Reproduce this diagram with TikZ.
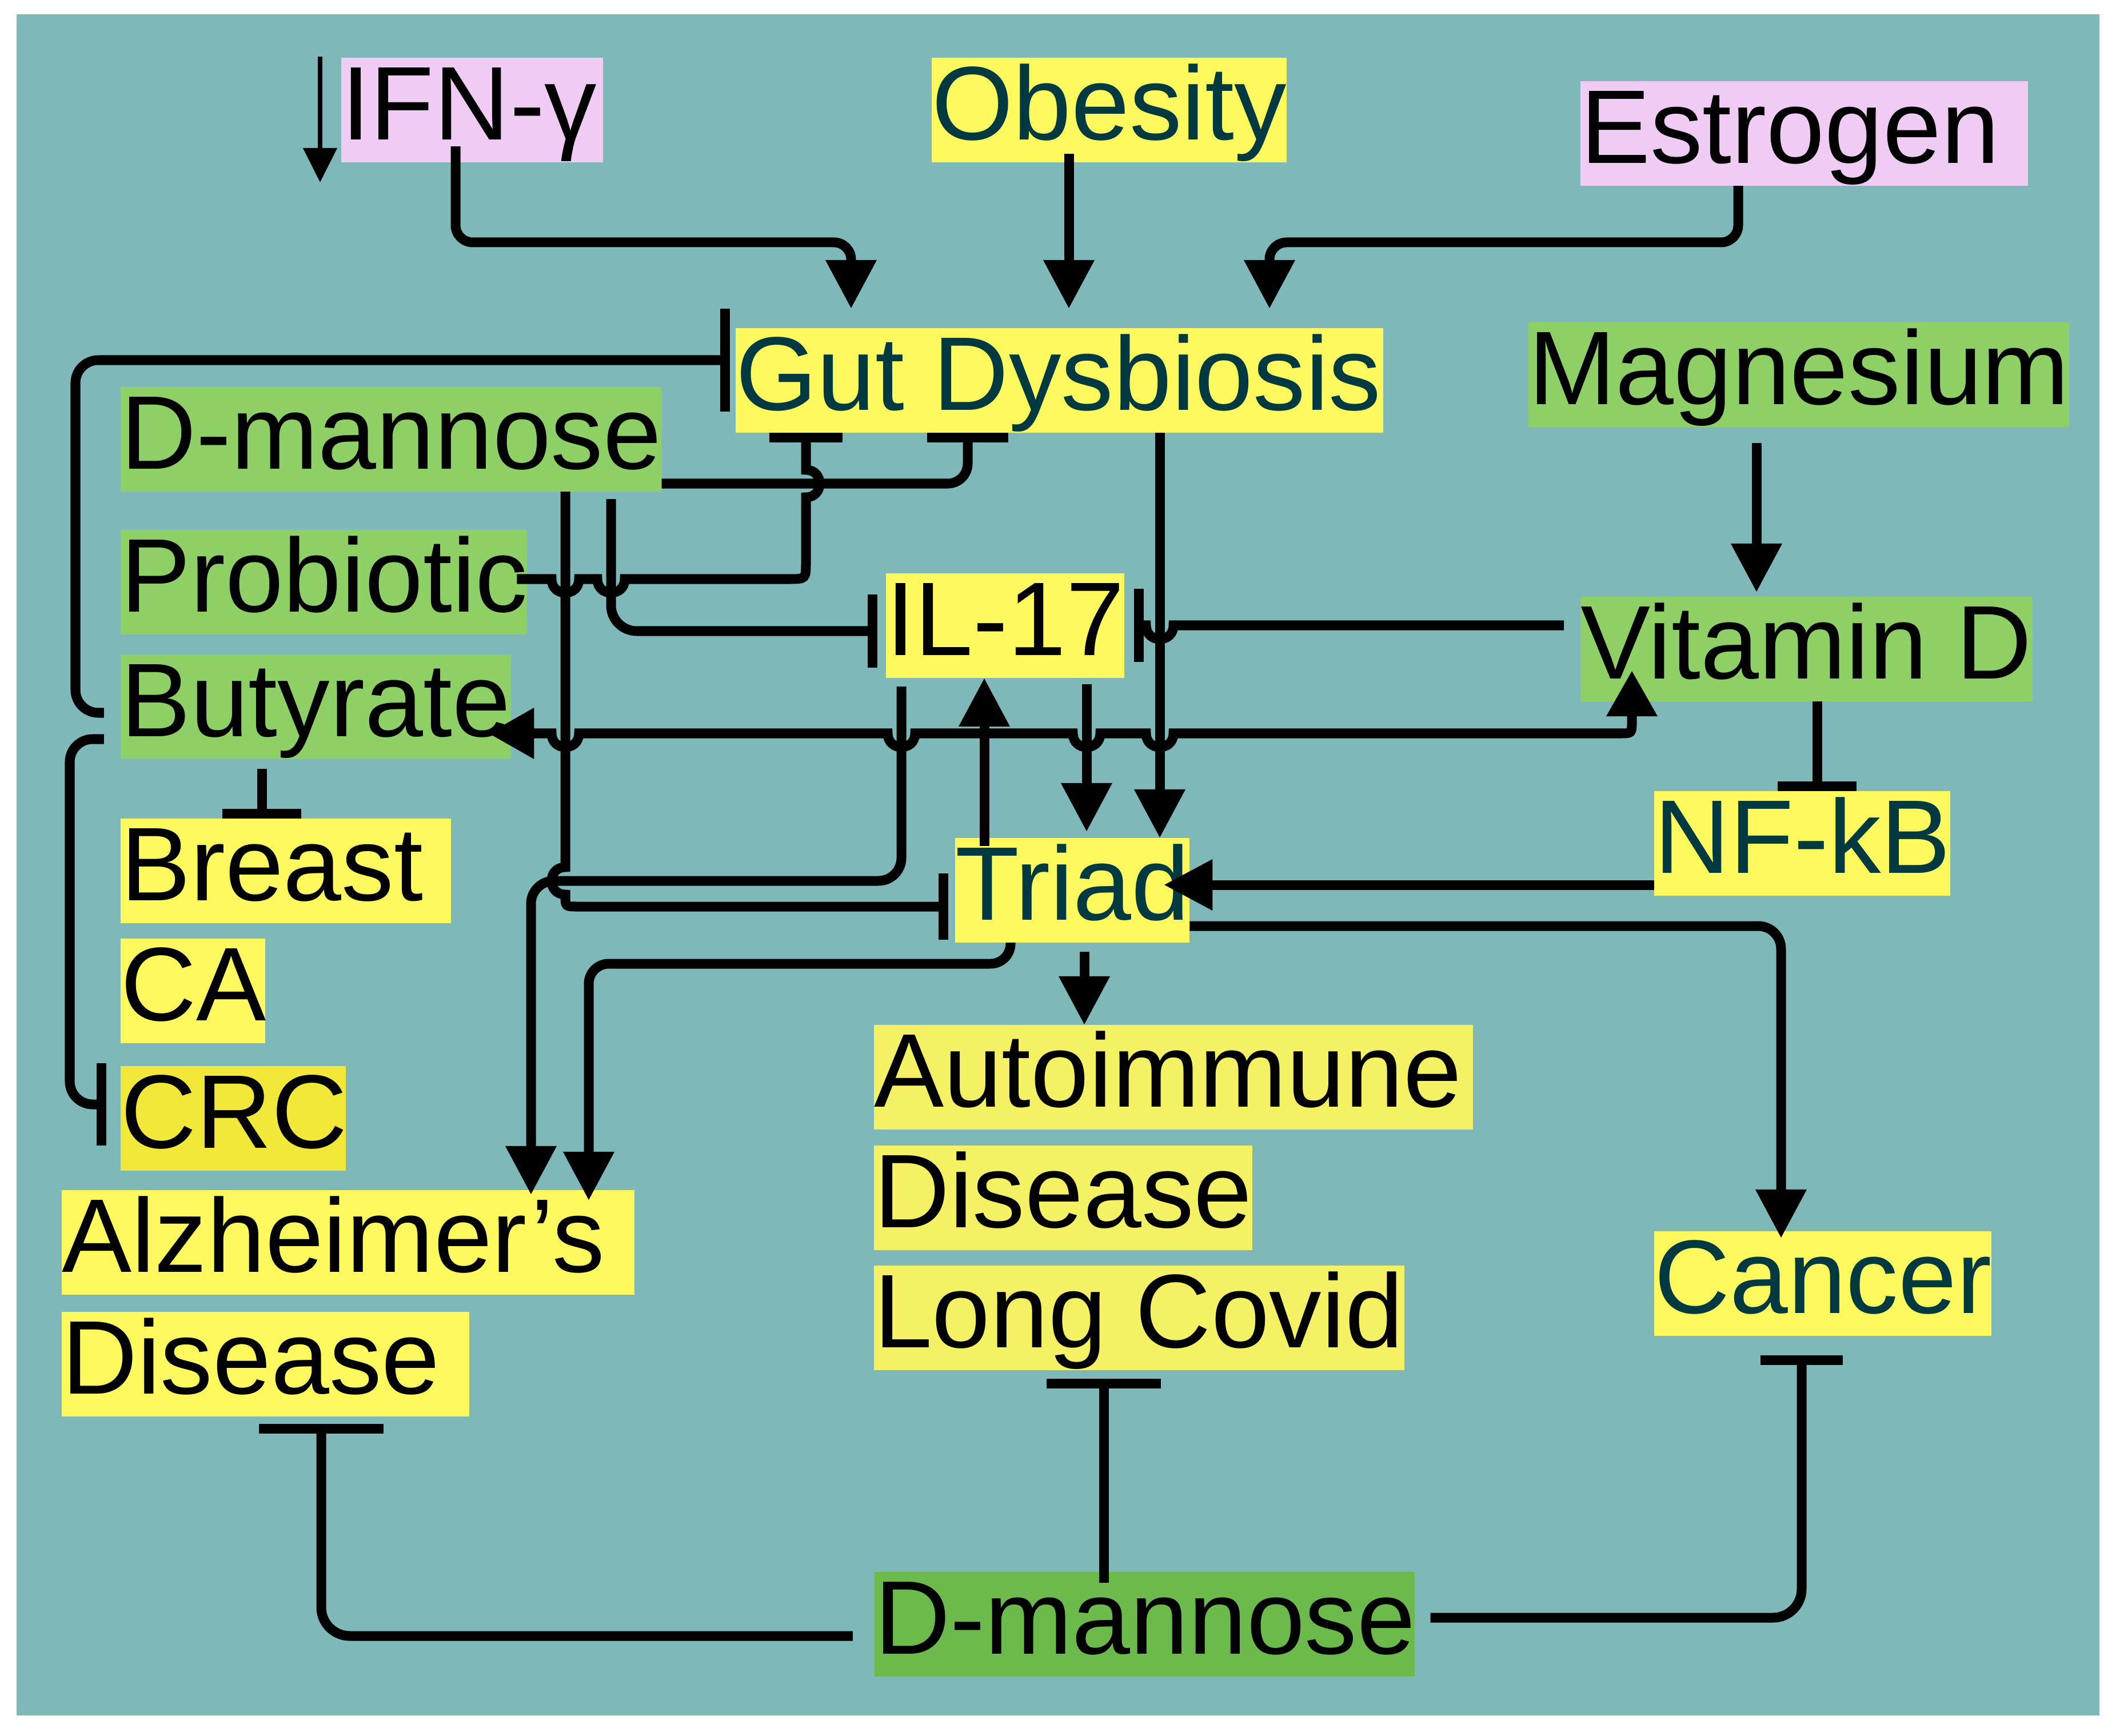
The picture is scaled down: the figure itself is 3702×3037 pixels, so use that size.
\documentclass[tikz,border=0pt]{standalone}
\usepackage{fontspec}
\setmainfont{Liberation Sans}
\usetikzlibrary{arrows.meta}
\definecolor{bgteal}{RGB}{127,184,185}
\definecolor{yel}{RGB}{253,249,95}
\definecolor{yelb}{RGB}{244,241,100}
\definecolor{yelcrc}{RGB}{242,232,58}
\definecolor{grn}{RGB}{142,208,102}
\definecolor{grnd}{RGB}{108,186,76}
\definecolor{pnk}{RGB}{240,204,245}
\definecolor{dtxt}{RGB}{0,58,64}
\newcommand\figfont{\fontsize{52.07pt}{60pt}\selectfont}
\newcommand\lbx[2]{\hbox to #1cm{#2\hss}}
\tikzset{
  lab/.style={anchor=north west, inner sep=0pt, outer sep=0pt,
    text height=1.43cm, text depth=0.40cm, font=\figfont, text=black},
  con/.style={line width=0.17cm},
  arr/.style={-{Triangle[width=0.85cm,length=0.85cm]}},
  inh/.style={-{Bar[width=#1]}},
}
\begin{document}
\begin{tikzpicture}[x=0.01cm,y=-0.01cm]
\fill[white] (0,0) rectangle (3702,3037);
\useasboundingbox (0,0) rectangle (3702,3037);
\fill[bgteal] (29,25) rectangle (3673,3001);

% nodes
\node[lab,fill=pnk] (ifn) at (597,101) {\lbx{4.58}{IFN-γ}};
\node[lab,fill=yel,text=dtxt] (obes) at (1630,101) {\lbx{6.21}{Obesity}};
\node[lab,fill=pnk] (estr) at (2765,142) {\lbx{7.83}{Estrogen}};
\node[lab,fill=yel,text=dtxt] (gut) at (1287,574) {\lbx{11.32}{Gut Dysbiosis}};
\node[lab,fill=grn] (magn) at (2674,564) {\lbx{9.45}{Magnesium}};
\node[lab,fill=grn] (dman) at (211,677) {\lbx{9.46}{D-mannose}};
\node[lab,fill=grn] (prob) at (211,927) {\lbx{7.11}{Probiotic}};
\node[lab,fill=grn] (buty) at (211,1145) {\lbx{6.83}{Butyrate}};
\node[lab,fill=yel] (breast) at (211,1432) {\lbx{5.78}{Breast}};
\node[lab,fill=yel] (ca) at (211,1642) {\lbx{2.53}{CA}};
\node[lab,fill=yelcrc] (crc) at (211,1865) {\lbx{3.94}{CRC}};
\node[lab,fill=yel] (alz) at (108,2082) {\lbx{10.01}{Alzheimer’s}};
\node[lab,fill=yel] (alzd) at (108,2295) {\lbx{7.13}{Disease}};
\node[lab,fill=yel] (il17) at (1550,1003) {\lbx{4.17}{IL-17}};
\node[lab,fill=yel,text=dtxt] (triad) at (1671,1466) {\lbx{4.10}{Triad}};
\node[lab,fill=grn] (vitd) at (2765,1044) {\lbx{7.91}{Vitamin D}};
\node[lab,fill=yel,text=dtxt] (nfkb) at (2894,1384) {\lbx{5.18}{NF-kB}};
\node[lab,fill=yelb] (auto) at (1529,1793) {\lbx{10.47}{Autoimmune}};
\node[lab,fill=yelb] (autod) at (1529,2004) {\lbx{6.62}{Disease}};
\node[lab,fill=yelb] (longc) at (1529,2214) {\lbx{9.27}{Long Covid}};
\node[lab,fill=yel,text=dtxt] (cancer) at (2894,2154) {\lbx{5.90}{Cancer}};
\node[lab,fill=grnd] (dman2) at (1530,2750) {\lbx{9.44}{D-mannose}};

% small down arrow
\coordinate (dA) at (560,99);
\coordinate (dB) at (560,319);
\draw[line width=0.08cm,-{Triangle[width=0.58cm,length=0.6cm]}] (dA) -- (dB);

% into Gut Dysbiosis
\draw[con,arr,rounded corners=0.3cm,shorten <=-0.28cm,shorten >=0.34cm] (797,0 |- ifn.south) |- (1489,424) -- (1489,0 |- gut.north);
\draw[con,arr,shorten <=-0.15cm,shorten >=0.34cm] (1870,0 |- obes.south) -- (1870,0 |- gut.north);
\draw[con,arr,rounded corners=0.3cm,shorten >=0.34cm] (3041,0 |- estr.south) |- (2221,424) -- (2221,0 |- gut.north);

% Magnesium, Vitamin D, NF-kB
\draw[con,arr,shorten <=0.28cm,shorten >=0.08cm] (3073,0 |- magn.south) -- (3073,0 |- vitd.north);
\draw[con,inh=1.38cm] (3179,0 |- vitd.south) -- (3179,0 |- nfkb.north);
\draw[con,arr,shorten >=-0.45cm] (nfkb.west |- 0,1548) -- (triad.east |- 0,1548);

% Triad outputs
\draw[con,arr,rounded corners=0.4cm,shorten >=-0.12cm] (triad.east |- 0,1620) -| (3116,0 |- cancer.north);
\draw[con,arr,shorten <=0.16cm] (1897,0 |- triad.south) -- (1897,0 |- auto.north);
\draw[con,arr,rounded corners=0.35cm,shorten >=-0.18cm] (1768,0 |- triad.south) |- (1030,1686) -- (1030,0 |- alz.north);
\draw[con,arr,rounded corners=0.4cm,shorten <=0.15cm,shorten >=-0.08cm] (1577,0 |- il17.south) |- (929,1541) -- (929,0 |- alz.north);

% Gut / IL-17 / Triad
\draw[con,arr] (2029,0 |- gut.south) -- (2029,0 |- triad.north);
\draw[con,arr,shorten <=0.11cm,shorten >=0.11cm] (1901,0 |- il17.south) -- (1901,0 |- triad.north);
\draw[con,arr,shorten <=-0.14cm] (1722,0 |- triad.north) -- (1722,0 |- il17.south);
\draw[con,inh=1.28cm,shorten <=0.29cm,shorten >=0.17cm] (vitd.west |- 0,1094) -- (2053,1094) .. controls (2053,1126) and (2005,1126) .. (2005,1094) -- (il17.east |- 0,1094);

% D-mannose (top)
\draw[con,inh=1.16cm,shorten >=0.12cm] (989,0 |- dman.south) -- (989,1517) .. controls (957,1517) and (957,1565) .. (989,1565) .. controls (989,1586) .. (1010,1586) -- (triad.west |- 0,1586);
\draw[con,inh=1.28cm,rounded corners=0.45cm,shorten <=0.13cm,shorten >=0.15cm] (1069,0 |- dman.south) |- (il17.west |- 0,1104);
\draw[con,inh=1.41cm,rounded corners=0.35cm] (dman.east |- 0,846) -| (1693,0 |- gut.south);

% Probiotic
\draw[con,inh=1.27cm,shorten <=-0.18cm] (prob.east |- 0,1013) -- (965,1013) .. controls (965,1045) and (1013,1045) .. (1013,1013) -- (1045,1013) .. controls (1045,1045) and (1093,1045) .. (1093,1013) -- (1380,1013) .. controls (1410,1013) .. (1410,983) -- (1410,870) .. controls (1442,870) and (1442,822) .. (1410,822) -- (1410,0 |- gut.south);

% Butyrate
\draw[con,inh=1.8cm,rounded corners=0.4cm,shorten <=0.29cm,shorten >=0.1cm] (buty.west |- 0,1247) -| (132,630) -- (gut.west |- 0,630);
\draw[con,inh=1.44cm,rounded corners=0.4cm,shorten <=0.29cm,shorten >=0.25cm] (buty.west |- 0,1293) -| (122,1932) -- (crc.west |- 0,1932);
\draw[con,inh=1.38cm,shorten <=0.17cm] (458,0 |- buty.south) -- (458,0 |- breast.north);
\draw[con,{Triangle[width=0.85cm,length=0.8cm]}-{Triangle[width=0.85cm,length=0.8cm]},shorten <=-0.40cm,shorten >=-0.54cm] (buty.east |- 0,1283) -- (965,1283) .. controls (965,1315) and (1013,1315) .. (1013,1283) -- (1553,1283) .. controls (1553,1315) and (1601,1315) .. (1601,1283) -- (1877,1283) .. controls (1877,1315) and (1925,1315) .. (1925,1283) -- (2005,1283) .. controls (2005,1315) and (2053,1315) .. (2053,1283) -- (2834,1283) .. controls (2855,1283) .. (2855,1262) -- (2855,0 |- vitd.south);

% D-mannose (bottom)
\draw[con,inh=2.0cm,shorten <=-0.19cm,shorten >=0.15cm] (1931,0 |- dman2.north) -- (1931,0 |- longc.south);
\draw[con,inh=2.17cm,rounded corners=0.5cm,shorten <=0.38cm,shorten >=0.13cm] (dman2.west |- 0,2862) -| (562,0 |- alzd.south);
\draw[con,inh=1.43cm,rounded corners=0.5cm,shorten <=0.28cm,shorten >=0.34cm] (dman2.east |- 0,2830) -| (3152,0 |- cancer.south);
\end{tikzpicture}
\end{document}
